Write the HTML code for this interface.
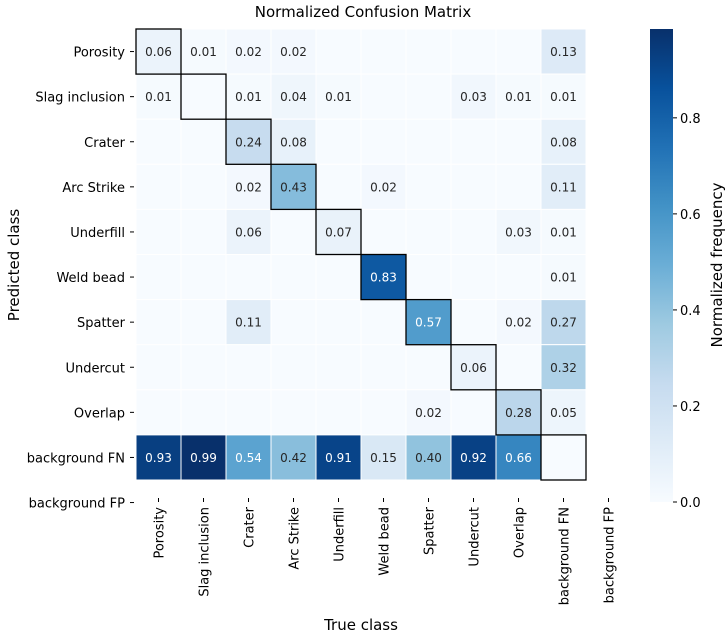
<!DOCTYPE html>
<html><head><meta charset="utf-8"><style>
html,body{margin:0;padding:0;background:#fff;}
svg{display:block;font-family:"DejaVu Sans","Liberation Sans",sans-serif;}
</style></head><body>
<svg id="chart" width="726" height="634" viewBox="0 0 726 634">
<defs><linearGradient id="cbgrad" x1="0" y1="1" x2="0" y2="0">
<stop offset="0" stop-color="#f7fbff"/><stop offset="0.125" stop-color="#deebf7"/><stop offset="0.25" stop-color="#c6dbef"/><stop offset="0.375" stop-color="#9ecae1"/><stop offset="0.5" stop-color="#6baed6"/><stop offset="0.625" stop-color="#4292c6"/><stop offset="0.75" stop-color="#2171b5"/><stop offset="0.875" stop-color="#08519c"/><stop offset="1" stop-color="#08306b"/>
</linearGradient></defs>
<text x="363" y="17" font-size="15" text-anchor="middle" fill="#000">Normalized Confusion Matrix</text>
<g id="cells"></g><g id="ylabels"></g><g id="xlabels"></g><g id="cbar"></g>
<text x="361" y="630" font-size="15" text-anchor="middle">True class</text>
<text transform="translate(19,265) rotate(-90)" font-size="15" text-anchor="middle">Predicted class</text>
<text transform="translate(722,265) rotate(-90)" font-size="15" text-anchor="middle">Normalized frequency</text>
</svg>
<script>
const rowLabels = ["Porosity","Slag inclusion","Crater","Arc Strike","Underfill","Weld bead","Spatter","Undercut","Overlap","background FN","background FP"];
const colLabels = ["Porosity","Slag inclusion","Crater","Arc Strike","Underfill","Weld bead","Spatter","Undercut","Overlap","background FN","background FP"];
const row0 = [0.06,0.01,0.02,0.02,0,0,0,0,0,0.13];
const row1 = [0.01,0,0.01,0.04,0.01,0,0,0.03,0.01,0.01];
const row2 = [0,0,0.24,0.08,0,0,0,0,0,0.08];
const row3 = [0,0,0.02,0.43,0,0.02,0,0,0,0.11];
const row4 = [0,0,0.06,0,0.07,0,0,0,0.03,0.01];
const row5 = [0,0,0,0,0,0.83,0,0,0,0.01];
const row6 = [0,0,0.11,0,0,0,0.57,0,0.02,0.27];
const row7 = [0,0,0,0,0,0,0,0.06,0,0.32];
const row8 = [0,0,0,0,0,0,0.02,0,0.28,0.05];
const row9 = [0.93,0.99,0.54,0.42,0.91,0.15,0.40,0.92,0.66,0];
const cbTicks = [0.0,0.2,0.4,0.6,0.8];
const matrix = [row0,row1,row2,row3,row4,row5,row6,row7,row8,row9];

const NS="http://www.w3.org/2000/svg";
const X0=136,Y0=29,CW=45,CH=45.1,VMAX=0.985,CB_TOP=29,CB_BOT=502,CBX=650,CBW=23;
const xPos=j=>X0+j*CW, yPos=i=>Y0+i*CH;
const cbY=v=>CB_BOT-(v/VMAX)*(CB_BOT-CB_TOP);
const stops=["#f7fbff","#deebf7","#c6dbef","#9ecae1","#6baed6","#4292c6","#2171b5","#08519c","#08306b"];
function hex(h){return [1,3,5].map(k=>parseInt(h.substr(k,2),16));}
function color(v){let t=Math.max(0,Math.min(1,v/VMAX))*8;let i=Math.min(7,Math.floor(t));let f=t-i;
 const a=hex(stops[i]),b=hex(stops[i+1]);return "rgb("+a.map((c,k)=>Math.round(c+(b[k]-c)*f)).join(",")+")";}
function mk(tag,attrs,parent,txt){const e=document.createElementNS(NS,tag);for(const k in attrs)e.setAttribute(k,attrs[k]);if(txt!==undefined)e.textContent=txt;parent.appendChild(e);return e;}
const cells=document.getElementById('cells');
matrix.forEach((row,i)=>row.forEach((v,j)=>{
 const r=mk('rect',{x:xPos(j),y:yPos(i),width:CW,height:CH,fill:color(v),stroke:'#fff','stroke-width':1},cells);
 
 
 if(v>0){const t=mk('text',{x:xPos(j)+CW/2,y:yPos(i)+CH/2+4.5,'font-size':12,'text-anchor':'middle',fill:v>0.5?'#fff':'#262626'},cells,v.toFixed(2));
  
  }
}));
for(let i=0;i<10;i++){const b=mk('rect',{x:xPos(i),y:yPos(i),width:CW,height:CH,fill:'none',stroke:'#000','stroke-width':1.3},cells);
 
 }
const yl=document.getElementById('ylabels');
rowLabels.forEach((l,i)=>{const y=yPos(i)+CH/2;
 mk('line',{x1:130,x2:134,y1:y,y2:y,stroke:'#000','stroke-width':1},yl);
 const t=mk('text',{x:125,y:y+5,'font-size':13,'text-anchor':'end'},yl,l);
 
 });
const xl=document.getElementById('xlabels');
colLabels.forEach((l,j)=>{const x=xPos(j)+CW/2;
 mk('line',{x1:x,x2:x,y1:498,y2:502,stroke:'#000','stroke-width':1},xl);
 const t=mk('text',{transform:'translate('+(x+5)+',507) rotate(-90)','font-size':13,'text-anchor':'end'},xl,l);
 
 });
const cb=document.getElementById('cbar');
const cbr=mk('rect',{x:CBX,y:CB_TOP,width:CBW,height:CB_BOT-CB_TOP,fill:'url(#cbgrad)'},cb);


cbTicks.forEach(v=>{const y=cbY(v);
 mk('line',{x1:CBX+CBW,x2:CBX+CBW+4,y1:y,y2:y,stroke:'#000','stroke-width':1},cb);
 const t=mk('text',{x:CBX+CBW+7,y:y+5,'font-size':13},cb,v.toFixed(1));
 
 });
</script>
</body></html>
